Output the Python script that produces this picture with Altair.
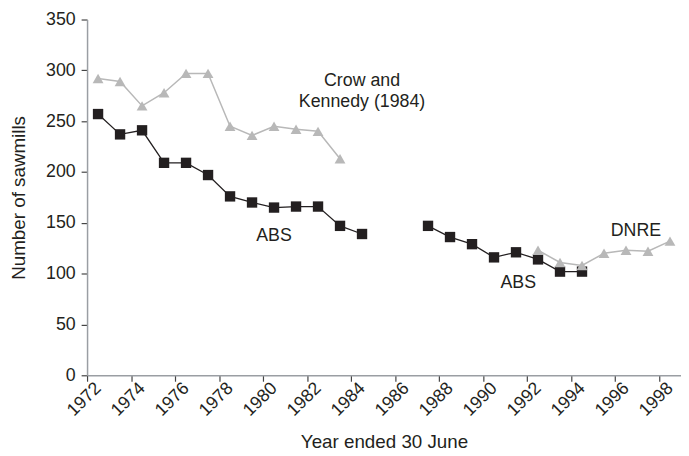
import altair as alt
import pandas as pd

# ABS series (two segments, gap 1985-1986)
abs1_years = list(range(1972, 1985))
abs1_vals = [257, 237, 241, 209, 209, 197, 176, 170, 165, 166, 166, 147, 139]
abs2_years = list(range(1987, 1995))
abs2_vals = [147, 136, 129, 116, 121, 114, 102, 102]
# Crow and Kennedy (1984)
ck_years = list(range(1972, 1984))
ck_vals = [292, 289, 265, 278, 297, 297, 245, 236, 245, 242, 240, 213]
# DNRE
dnre_years = list(range(1992, 1999))
dnre_vals = [123, 111, 108, 120, 123, 122, 132]

# annotations
ann_text = ["Crow and\nKennedy (1984)", "ABS", "ABS", "DNRE"]
ann_year = [1984.0, 1980.0, 1991.1, 1996.45]
ann_val = [289, 137, 91, 142]

rows = []
for y, v in zip(abs1_years, abs1_vals):
    rows.append(dict(year=y, value=v, series="ABS", seg="abs1"))
for y, v in zip(abs2_years, abs2_vals):
    rows.append(dict(year=y, value=v, series="ABS", seg="abs2"))
for y, v in zip(ck_years, ck_vals):
    rows.append(dict(year=y, value=v, series="Gray", seg="ck"))
for y, v in zip(dnre_years, dnre_vals):
    rows.append(dict(year=y, value=v, series="Gray", seg="dnre"))
df = pd.DataFrame(rows)
ann = pd.DataFrame(dict(text=ann_text, year=ann_year, value=ann_val))

FONT = "Liberation Sans"
HALF = 601 / 27 / 2

xscale = alt.Scale(domain=[1971.5, 1998.5], nice=False, zero=False)
yscale = alt.Scale(domain=[0, 350], nice=False)

x_axis = alt.Axis(
    values=list(range(1972, 2000)),
    format="d",
    labelExpr="datum.value % 2 == 0 ? datum.label : ''",
    tickOffset=-HALF,
    labelOffset=HALF,
    labelAngle=315,
    labelAlign="right",
    labelBaseline="middle",
    labelPadding=4,
    tickSize=6,
    title="Year ended 30 June",
    titlePadding=13,
    grid=False,
)
y_axis = alt.Axis(
    values=list(range(0, 351, 50)),
    tickSize=6,
    labelPadding=6,
    title="Number of sawmills",
    titlePadding=17,
    grid=False,
)

gray_df = df[df.series == "Gray"]
black_df = df[df.series == "ABS"]

base_x = alt.X("year:Q", scale=xscale, axis=x_axis)
base_y = alt.Y("value:Q", scale=yscale, axis=y_axis)

black_line = alt.Chart(black_df).mark_line(color="#231f20", strokeWidth=1.3).encode(
    x=base_x, y=base_y, detail="seg:N")
black_pts = alt.Chart(black_df).mark_point(
    shape="square", filled=True, size=110, color="#231f20", opacity=1).encode(
    x="year:Q", y="value:Q")
gray_line = alt.Chart(gray_df).mark_line(color="#b8b8b8", strokeWidth=1.5).encode(
    x="year:Q", y="value:Q", detail="seg:N")
gray_pts = alt.Chart(gray_df).mark_point(
    shape="triangle-up", filled=True, size=120, color="#b8b8b8", opacity=1).encode(
    x="year:Q", y="value:Q")
texts = alt.Chart(ann).mark_text(
    font=FONT, fontSize=18, color="#231f20", align="center", baseline="middle",
    lineBreak="\n", lineHeight=21).encode(
    x="year:Q", y="value:Q", text="text:N")

chart = alt.layer(gray_line, black_line, black_pts, gray_pts, texts).properties(
    width=601, height=360,
    background="white",
    autosize=alt.AutoSizeParams(type="none"),
    padding={"left": 80, "top": 9, "right": 0, "bottom": 78},
).configure_view(stroke=None).configure_axis(
    labelFont=FONT, titleFont=FONT, labelFontSize=18, titleFontSize=19,
    labelColor="#231f20", titleColor="#231f20", titleFontWeight="normal",
    domainColor="#9a9ea3", domainWidth=1.5, tickColor="#444444", tickWidth=1.2,
)

chart.save("out.html", embed_options={"renderer": "svg", "actions": False})
